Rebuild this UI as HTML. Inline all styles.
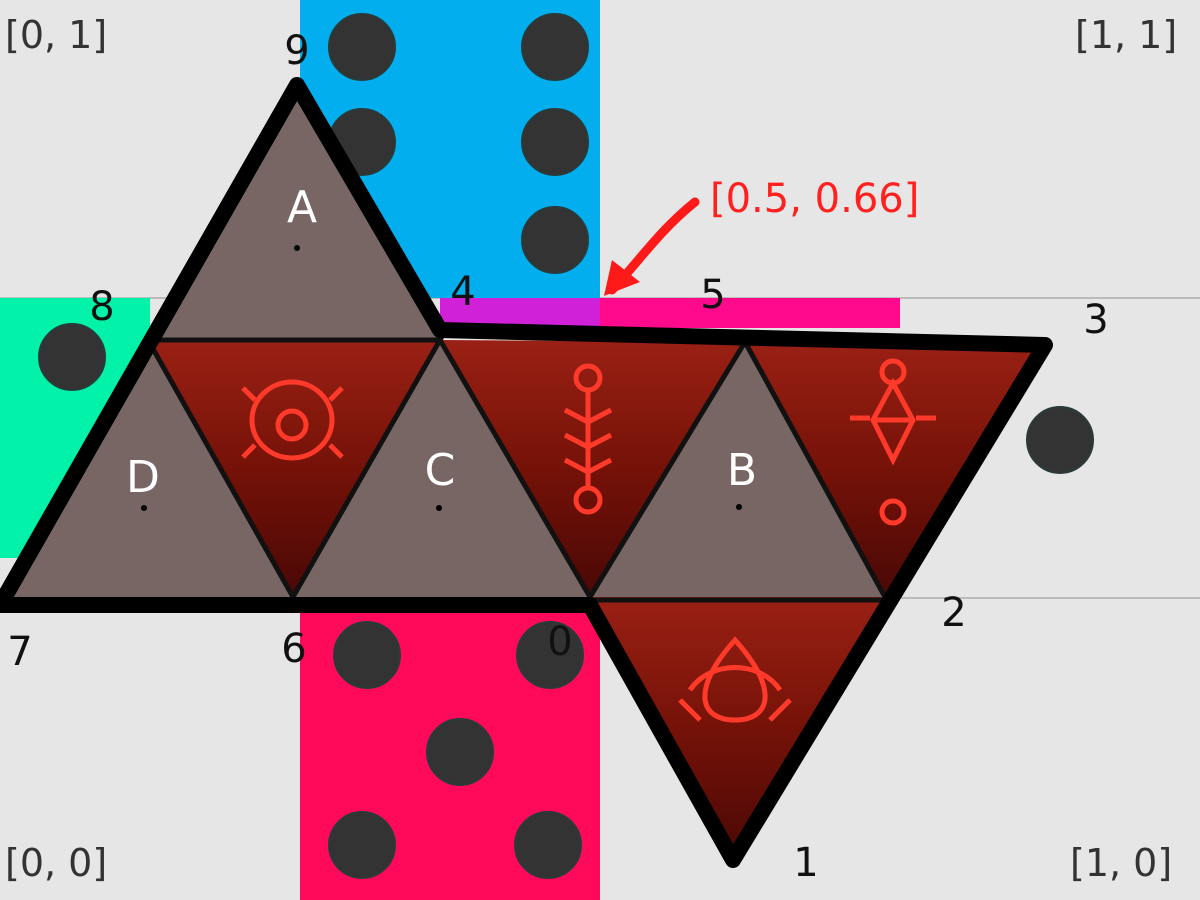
<!DOCTYPE html>
<html><head><meta charset="utf-8"><style>
html,body{margin:0;padding:0;background:#e6e6e6;}
svg{display:block;font-family:"DejaVu Sans","Liberation Sans",sans-serif;}
</style></head><body>
<svg width="1200" height="900" viewBox="0 0 1200 900">
<defs>
<linearGradient id="rg" x1="0" y1="0" x2="0" y2="1">
<stop offset="0" stop-color="#9a2014"/><stop offset="0.5" stop-color="#751208"/><stop offset="1" stop-color="#4a0806"/>
</linearGradient>
</defs>
<rect width="1200" height="900" fill="#e6e6e6"/>
<line x1="0" y1="298" x2="1200" y2="298" stroke="#bbb" stroke-width="2"/>
<line x1="0" y1="598" x2="1200" y2="598" stroke="#bbb" stroke-width="2"/>
<rect x="300" y="0" width="300" height="298" fill="#03aeee"/>
<rect x="440" y="298" width="160" height="30" fill="#d020d8"/>
<rect x="600" y="298" width="300" height="30" fill="#ff0a8c"/>
<rect x="0" y="298" width="150" height="260" fill="#03f2aa"/>
<rect x="300" y="600" width="300" height="300" fill="#ff0a5a"/>
<g fill="#333" stroke="#2a3a3a" stroke-width="2">
<circle cx="362" cy="47" r="33"/><circle cx="555" cy="47" r="33"/>
<circle cx="362" cy="142" r="33"/><circle cx="555" cy="142" r="33"/><circle cx="555" cy="240" r="33"/>
<circle cx="72" cy="357" r="33"/><circle cx="1060" cy="440" r="33"/>
<circle cx="367" cy="655" r="33"/><circle cx="550" cy="655" r="33"/><circle cx="460" cy="752" r="33"/>
<circle cx="362" cy="845" r="33"/><circle cx="548" cy="845" r="33"/>
</g>
<g fill="url(#rg)">
<polygon points="148,340 440,340 293,597"/>
<polygon points="440,340 745,342 590,597"/>
<polygon points="745,342 1045,345 885,597"/>
<polygon points="590,597 885,597 733,860"/>
</g>
<g fill="none" stroke="#ff3a2a" stroke-width="5">
<ellipse cx="292" cy="420" rx="40" ry="38"/><circle cx="292" cy="425" r="14"/>
<path d="M255,400 l-12,-12 M330,400 l12,-12 M255,445 l-12,12 M330,445 l12,12"/>
<circle cx="588" cy="378" r="12"/><path d="M588,390 V488 M565,410 l23,12 l23,-12 M565,435 l23,12 l23,-12 M565,460 l23,12 l23,-12"/><circle cx="588" cy="500" r="12"/>
<circle cx="893" cy="372" r="11"/><path d="M893,383 L873,420 L893,460 L913,420 Z M873,420 L913,420 M850,418 h20 M916,418 h20"/><circle cx="893" cy="512" r="11"/>
<path d="M735,640 C690,690 700,720 735,720 C770,720 780,690 735,640 Z M690,690 C710,660 760,660 780,690 M700,720 L680,700 M770,720 L790,700"/>
</g>
<g fill="#776663">
<polygon points="297,85 148,338 440,338"/>
<polygon points="148,340 0,597 293,597"/>
<polygon points="440,340 293,597 590,597"/>
<polygon points="745,342 590,597 885,597"/>
</g>
<g stroke="#111" stroke-width="5" fill="none">
<path d="M148,340 H440 L293,597 Z M440,340 L590,597 L745,342 M745,342 L885,597 M590,600 H885"/>
</g>
<path d="M297,85 L440,330 L1045,345 L733,860 L590,605 L0,605 Z" fill="none" stroke="#000" stroke-width="16" stroke-linejoin="round"/>
<g fill="#fff" font-size="44" text-anchor="middle">
<text x="302" y="222">A</text><text x="143" y="492">D</text><text x="440" y="485">C</text><text x="742" y="485">B</text>
</g>
<g fill="#000">
<circle cx="297" cy="248" r="3"/><circle cx="144" cy="508" r="3"/><circle cx="439" cy="508" r="3"/><circle cx="739" cy="507" r="3"/>
</g>
<g fill="#111" font-size="40" text-anchor="middle">
<text x="297" y="64">9</text><text x="463" y="305">4</text><text x="713" y="308">5</text><text x="1096" y="333">3</text>
<text x="102" y="320">8</text><text x="20" y="665">7</text><text x="294" y="662">6</text><text x="560" y="655">0</text>
<text x="954" y="626">2</text><text x="806" y="876">1</text>
</g>
<g fill="#333" font-size="38">
<text x="5" y="48">[0, 1]</text><text x="1075" y="48">[1, 1]</text>
<text x="5" y="876">[0, 0]</text><text x="1070" y="876">[1, 0]</text>
</g>
<text x="710" y="212" fill="#ff2020" font-size="40">[0.5, 0.66]</text>
<path d="M695,202 C660,230 640,260 612,290" fill="none" stroke="#ff1a1a" stroke-width="9" stroke-linecap="round"/>
<path d="M604,296 L612,260 L640,282 Z" fill="#ff1a1a"/>
</svg>
</body></html>
